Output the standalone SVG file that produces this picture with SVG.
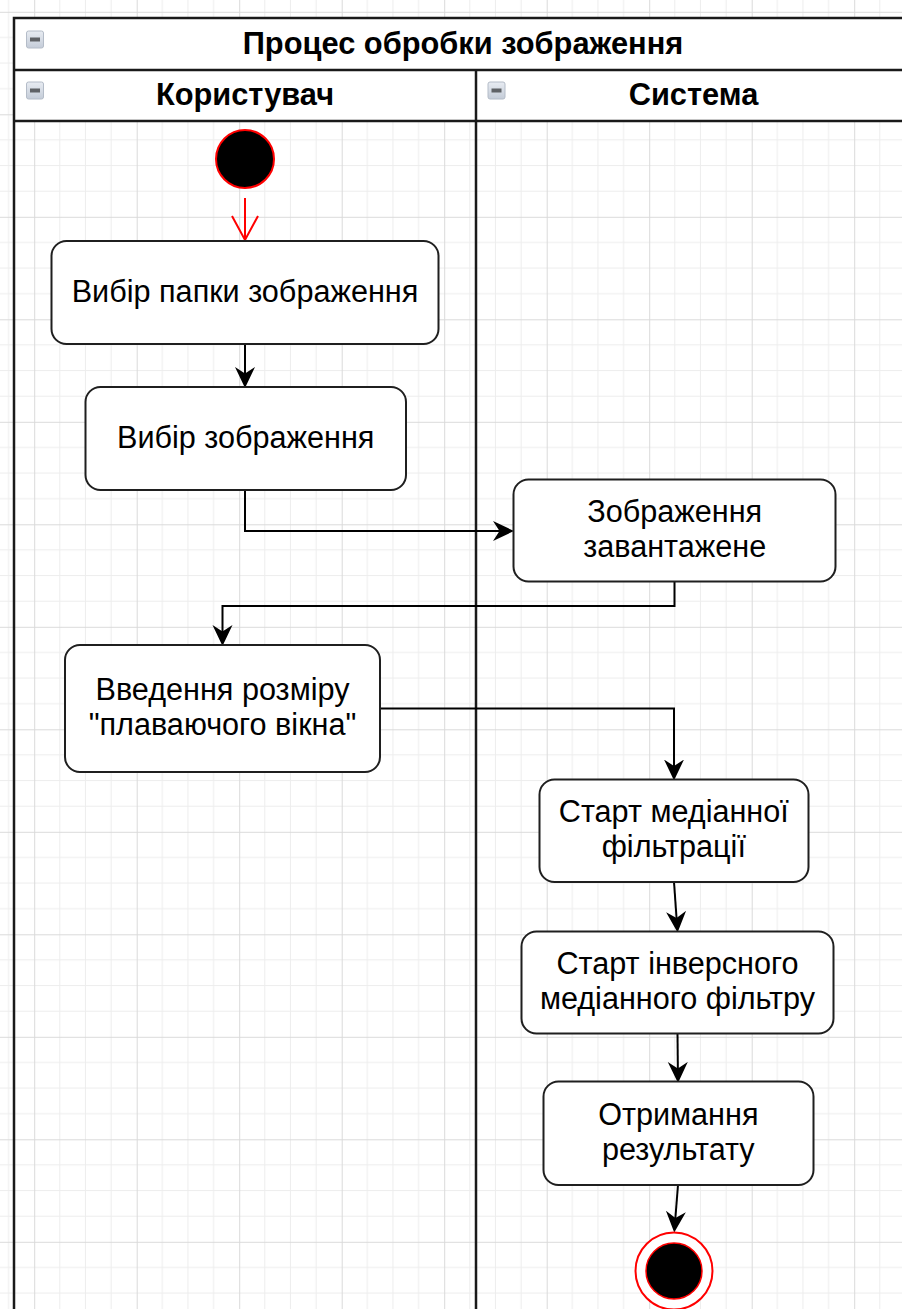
<svg xmlns="http://www.w3.org/2000/svg" width="902" height="1309" viewBox="0 0 902 1309">
<style>
.node rect{fill:#fff;stroke:#1f1f1f;stroke-width:2}
.lbl{font-family:"Liberation Sans",Arial,sans-serif;font-size:30.6px;fill:#000;text-anchor:middle}
.hdr{font-family:"Liberation Sans",Arial,sans-serif;font-size:30.8px;font-weight:bold;fill:#000;text-anchor:middle}
.pool{fill:none;stroke:#1a1a1a;stroke-width:2.5}
.edge{fill:none;stroke:#000;stroke-width:2}
</style>
<defs>
<pattern id="grid" patternUnits="userSpaceOnUse" x="34.2" y="11.8" width="102.5" height="102.5">
<path d="M25.625,0V102.5M51.25,0V102.5M76.875,0V102.5M0,25.625H102.5M0,51.25H102.5M0,76.875H102.5" stroke="#ededed" stroke-width="1" fill="none"/>
<path d="M0.5,0V102.5M0,0.5H102.5" stroke="#dadada" stroke-width="1" fill="none"/>
</pattern>
<linearGradient id="icg" x1="0" y1="0" x2="0" y2="1">
<stop offset="0" stop-color="#e8ecf2"/><stop offset="1" stop-color="#c4ccd8"/>
</linearGradient>
<g id="icon">
<rect x="0" y="0" width="17" height="17" rx="2" fill="url(#icg)" stroke="#b4bcc8" stroke-width="1"/>
<rect x="3.5" y="6.5" width="10" height="4" fill="#5f6266"/>
</g>
<marker id="arr" markerUnits="userSpaceOnUse" viewBox="0 0 22 22" markerWidth="22" markerHeight="22" refX="10" refY="11" orient="auto">
<path d="M0,1 L21,11 L0,21 L6.5,11 Z" fill="#000"/>
</marker>
<marker id="open" markerUnits="userSpaceOnUse" viewBox="0 0 28 30" markerWidth="28" markerHeight="30" refX="25" refY="15" orient="auto">
<path d="M1,2 L25,15 L1,28" fill="none" stroke="#ff0000" stroke-width="2"/>
</marker>
</defs>
<rect width="902" height="1309" fill="#fff"/>
<rect width="902" height="1309" fill="url(#grid)"/>

<g id="pool">
<rect x="14" y="18" width="898" height="103" fill="#fff"/>
<rect class="pool" x="14" y="18" width="898" height="1310"/>
<line class="pool" x1="14" y1="70" x2="912" y2="70"/>
<line class="pool" x1="14" y1="121" x2="912" y2="121"/>
<line class="pool" x1="476" y1="70" x2="476" y2="1320"/>
<use href="#icon" x="26.5" y="31"/>
<text class="hdr" x="463" y="54">Процес обробки зображення</text>
</g>
<g id="lane-user">
<use href="#icon" x="26.5" y="82"/>
<text class="hdr" x="245" y="105">Користувач</text>
</g>
<g id="lane-system">
<use href="#icon" x="488" y="82"/>
<text class="hdr" x="693.5" y="105">Система</text>
</g>

<g id="connectors">
<path d="M245,198 V240" fill="none" stroke="#ff0000" stroke-width="2" marker-end="url(#open)"/>
<path class="edge" d="M245,344 V377" marker-end="url(#arr)"/>
<path class="edge" d="M245,490 V531 H503" marker-end="url(#arr)"/>
<path class="edge" d="M674.5,582 V606 H222.5 V635" marker-end="url(#arr)"/>
<path class="edge" d="M380,708.5 H674 V769.5" marker-end="url(#arr)"/>
<path class="edge" d="M674,882 L676.8,921.5" marker-end="url(#arr)"/>
<path class="edge" d="M677.5,1033.5 L677.9,1072" marker-end="url(#arr)"/>
<path class="edge" d="M678,1185 L675.1,1221.5" marker-end="url(#arr)"/>
</g>

<g id="start">
<circle cx="245" cy="159" r="29" fill="#000" stroke="#ff0000" stroke-width="2"/>
</g>
<g id="n1" class="node">
<rect x="51.5" y="241" width="387" height="103" rx="15"/>
<text class="lbl" x="245" y="301.5">Вибір папки зображення</text>
</g>
<g id="n2" class="node">
<rect x="85.5" y="387" width="320.5" height="103" rx="15"/>
<text class="lbl" x="245.7" y="447.5">Вибір зображення</text>
</g>
<g id="n3" class="node">
<rect x="513.5" y="479.5" width="322" height="102" rx="15"/>
<text class="lbl" x="674.7" y="521.5"><tspan x="674.7">Зображення</tspan><tspan x="674.7" dy="35.6">завантажене</tspan></text>
</g>
<g id="n4" class="node">
<rect x="65" y="645" width="315" height="127" rx="15"/>
<text class="lbl" x="222.5" y="699.5"><tspan x="222.5">Введення розміру</tspan><tspan x="222.5" dy="35.6">"плаваючого вікна"</tspan></text>
</g>
<g id="n5" class="node">
<rect x="539.5" y="779.5" width="269" height="102.5" rx="15"/>
<text class="lbl" x="673.8" y="821.5"><tspan x="673.8">Старт медіанної</tspan><tspan x="673.8" dy="35.6">фільтрації</tspan></text>
</g>
<g id="n6" class="node">
<rect x="521.5" y="931.5" width="312" height="102" rx="15"/>
<text class="lbl" x="677.5" y="973.5"><tspan x="677.5">Старт інверсного</tspan><tspan x="677.5" dy="35.6">медіанного фільтру</tspan></text>
</g>
<g id="n7" class="node">
<rect x="543.5" y="1081.5" width="270" height="103.5" rx="15"/>
<text class="lbl" x="678.3" y="1124.5"><tspan x="678.3">Отримання</tspan><tspan x="678.3" dy="35.6">результату</tspan></text>
</g>
<g id="end">
<circle cx="674" cy="1271" r="38.5" fill="#fff" stroke="#ff0000" stroke-width="2"/>
<circle cx="674" cy="1271" r="28" fill="#000" stroke="#ff0000" stroke-width="1.5"/>
</g>
</svg>
